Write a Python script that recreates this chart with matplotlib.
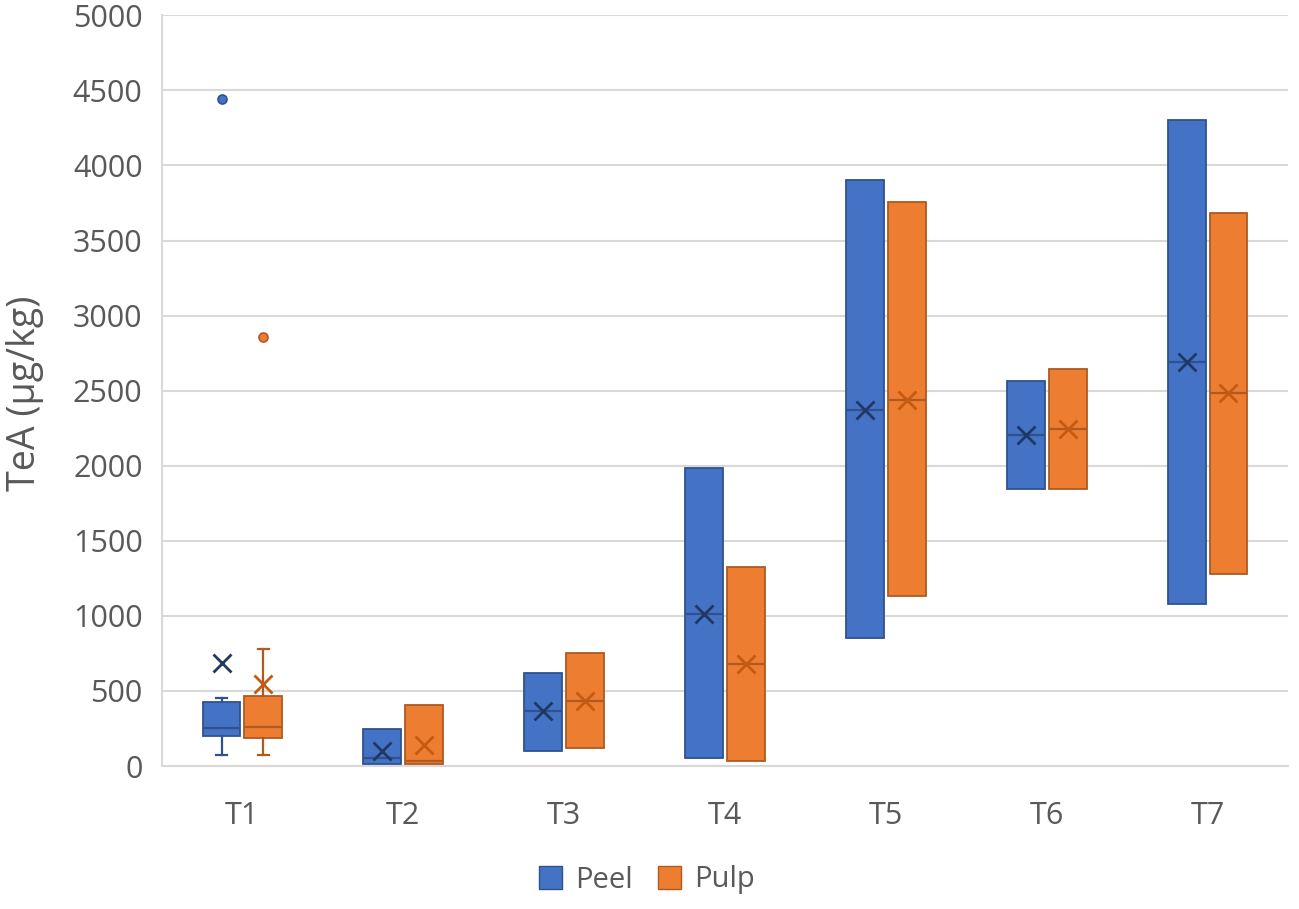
import matplotlib
matplotlib.use("Agg")
import matplotlib.pyplot as plt
from matplotlib.patches import Patch

# ---------------- data ----------------
categories = ["T1", "T2", "T3", "T4", "T5", "T6", "T7"]
series = ["Peel", "Pulp"]

peel_q1     = [200, 10, 100, 50, 850, 1848, 1082]
peel_med    = [250, 50, 365, 1015, 2370, 2203, 2692]
peel_q3     = [425, 248, 622, 1986, 3903, 2562, 4304]
peel_whislo = [75, 10, 100, 50, 850, 1848, 1082]
peel_whishi = [455, 248, 622, 1986, 3903, 2562, 4304]
peel_mean   = [685, 100, 365, 1015, 2370, 2203, 2692]
peel_fliers = [[4440], [], [], [], [], [], []]

pulp_q1     = [188, 10, 118, 33, 1132, 1848, 1280]
pulp_med    = [260, 32, 432, 682, 2440, 2242, 2485]
pulp_q3     = [468, 408, 750, 1327, 3755, 2645, 3683]
pulp_whislo = [75, 10, 118, 33, 1132, 1848, 1280]
pulp_whishi = [778, 408, 750, 1327, 3755, 2645, 3683]
pulp_mean   = [548, 142, 432, 682, 2440, 2242, 2485]
pulp_fliers = [[2860], [], [], [], [], [], []]

yticks = [0, 500, 1000, 1500, 2000, 2500, 3000, 3500, 4000, 4500, 5000]

# ---------------- style ----------------
FONT = ["Open Sans", "DejaVu Sans"]
plt.rcParams["font.family"] = FONT
TEXT = "#595959"
GRID = "#D9D9D9"
fills = {"Peel": "#4472C4", "Pulp": "#ED7D31"}
edges = {"Peel": "#2F528F", "Pulp": "#AE5A21"}
marks = {"Peel": "#203864", "Pulp": "#C55A11"}

W, H = 1299, 909
fig = plt.figure(figsize=(W / 100, H / 100), dpi=100)
ax = fig.add_axes([162 / W, 1 - 766 / H, (1288 - 162) / W, (766 - 15.3) / H])

offsets = {"Peel": -0.13, "Pulp": 0.13}
data = {
    "Peel": (peel_q1, peel_med, peel_q3, peel_whislo, peel_whishi, peel_mean, peel_fliers),
    "Pulp": (pulp_q1, pulp_med, pulp_q3, pulp_whislo, pulp_whishi, pulp_mean, pulp_fliers),
}

for s in series:
    q1, med, q3, lo, hi, mean, fl = data[s]
    stats = []
    for i in range(len(categories)):
        stats.append(dict(q1=q1[i], med=med[i], q3=q3[i], whislo=lo[i],
                          whishi=hi[i], mean=mean[i], fliers=fl[i], label=categories[i]))
    pos = [i + 1 + offsets[s] for i in range(len(categories))]
    art = ax.bxp(stats, positions=pos, widths=0.235, patch_artist=True, showmeans=True,
                 capwidths=0.065, manage_ticks=False,
                 boxprops=dict(facecolor=fills[s], edgecolor=edges[s], linewidth=1.3),
                 medianprops=dict(color=edges[s], linewidth=1.6),
                 whiskerprops=dict(color=edges[s], linewidth=1.6),
                 capprops=dict(color=edges[s], linewidth=1.6),
                 meanprops=dict(marker="x", markeredgecolor=marks[s], markersize=13,
                                markeredgewidth=2.0, linestyle="none"),
                 flierprops=dict(marker="o", markerfacecolor=fills[s], markeredgecolor=edges[s],
                                 markersize=6.5, markeredgewidth=1.2, linestyle="none"),
                 zorder=3)
    # hide caps where the whisker coincides with the box edge
    for i in range(len(categories)):
        if lo[i] == q1[i]:
            art["caps"][2 * i].set_visible(False)
        if hi[i] == q3[i]:
            art["caps"][2 * i + 1].set_visible(False)

ax.set_xlim(0.5, len(categories) + 0.5)
ax.set_ylim(0, 5000)
ax.set_yticks(yticks)
ax.set_yticklabels([str(v) for v in yticks])
ax.set_xticks(range(1, len(categories) + 1))
ax.set_xticklabels(categories)
ax.tick_params(axis="y", length=0, pad=14, labelsize=22, labelcolor=TEXT)
ax.tick_params(axis="x", length=0, pad=25, labelsize=22, labelcolor=TEXT)
ax.grid(axis="y", color=GRID, linewidth=1.5, zorder=0)
ax.set_axisbelow(True)
for side in ["top", "right"]:
    ax.spines[side].set_visible(False)
for side in ["left", "bottom"]:
    ax.spines[side].set_color(GRID)
    ax.spines[side].set_linewidth(1.5)

fig.text(25 / W, 1 - 393 / H, "TeA (µg/kg)", rotation=90, ha="center", va="center",
         fontsize=27, color=TEXT)

handles = [Patch(facecolor=fills[s], edgecolor=edges[s], linewidth=1.0) for s in series]
fig.legend(handles, series, loc="center", bbox_to_anchor=(647 / W, 1 - 880 / H),
           ncol=2, frameon=False, fontsize=21, labelcolor=TEXT,
           handlelength=0.8, handleheight=0.8, handletextpad=0.45, columnspacing=0.85)

fig.savefig("out.png", dpi=100)
